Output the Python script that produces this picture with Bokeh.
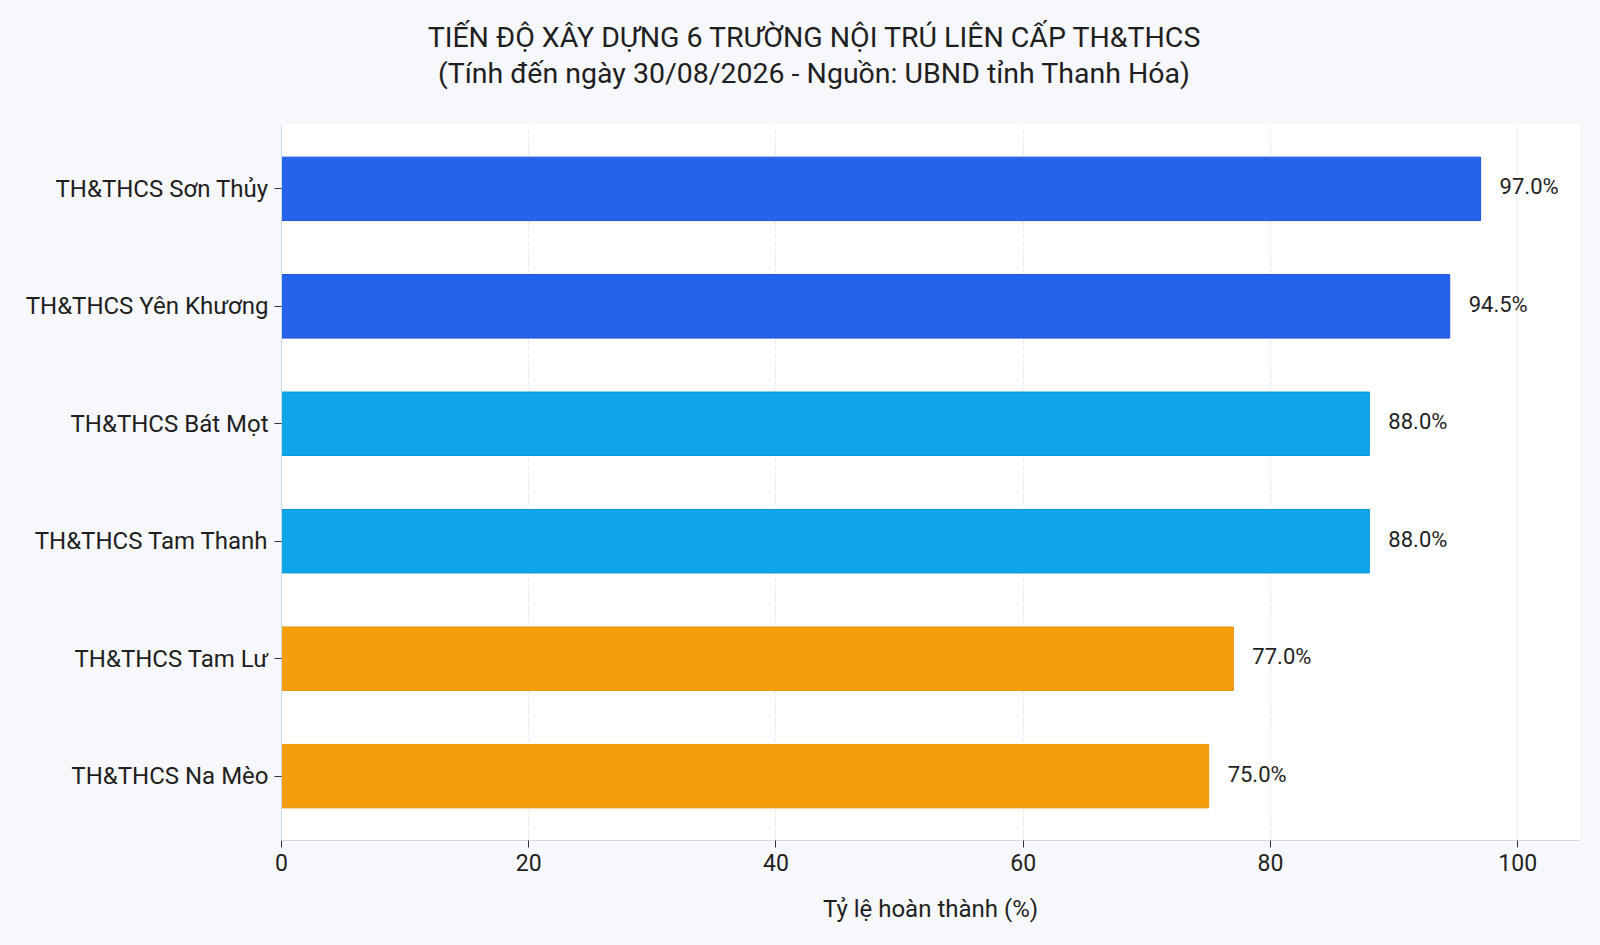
from bokeh.plotting import figure
from bokeh.layouts import column
from bokeh.models import ColumnDataSource, Div, FactorRange, Range1d, FixedTicker
from bokeh.embed import file_html
from bokeh.resources import INLINE

schools = ["TH&THCS Sơn Thủy", "TH&THCS Yên Khương", "TH&THCS Bát Mọt",
           "TH&THCS Tam Thanh", "TH&THCS Tam Lư", "TH&THCS Na Mèo"]
completion = [97.0, 94.5, 88.0, 88.0, 77.0, 75.0]
bar_colors = ["#2563eb", "#2563eb", "#0ea5e9", "#0ea5e9", "#f59e0b", "#f59e0b"]
edge_colors = ["#1d4ed8", "#1d4ed8", "#0b96d6", "#0b96d6", "#e8940a", "#e8940a"]
x_ticks = [0, 20, 40, 60, 80, 100]
labels = [f"{v:.1f}%" for v in completion]

title_line1 = "TIẾN ĐỘ XÂY DỰNG 6 TRƯỜNG NỘI TRÚ LIÊN CẤP TH&THCS"
title_line2 = "(Tính đến ngày 30/08/2026 - Nguồn: UBND tỉnh Thanh Hóa)"
x_label = "Tỷ lệ hoàn thành (%)"

FONT = "Roboto"
TXT = "#1f1f1f"
BG = "#f7f8fb"

W, H = 1600, 945
HEAD = 124
FRAME_L, FRAME_R, FRAME_B = 281, 1579, 840
X_MAX = 105

src = ColumnDataSource(dict(school=schools, val=completion, color=bar_colors,
                            edge=edge_colors, label=labels))

y_range = FactorRange(factors=list(reversed(schools)), range_padding=0.048,
                      range_padding_units="absolute")

title_div = Div(
    text=(f'<div style="font-family:{FONT};font-size:28.5px;line-height:35.5px;'
          f'color:{TXT};text-align:center;padding-top:20px;padding-left:28px;'
          f'box-sizing:border-box;width:{W}px;">'
          f'{title_line1}<br>{title_line2}</div>'),
    width=W, height=HEAD, margin=(0, 0, 0, 0))

p = figure(width=W, height=H - HEAD, y_range=y_range, x_range=Range1d(0, X_MAX),
           output_backend="svg", toolbar_location=None, margin=(0, 0, 0, 0),
           min_border_left=FRAME_L, min_border_right=W - FRAME_R,
           min_border_top=0, min_border_bottom=H - FRAME_B)

p.hbar(y="school", right="val", left=0, height=0.54, source=src,
       fill_color="color", line_color="edge", line_width=1)

p.text(x="val", y="school", text="label", source=src, x_offset=19, y_offset=-2,
       text_align="left", text_baseline="middle", text_font_size="22px",
       text_color=TXT, text_font={"value": FONT})

p.background_fill_color = "#ffffff"
p.border_fill_color = BG
p.outline_line_color = None

p.xgrid.grid_line_color = "#e6e8ec"
p.xgrid.grid_line_dash = "4 3"
p.xgrid.ticker = FixedTicker(ticks=x_ticks)
p.ygrid.grid_line_color = None

p.xaxis.ticker = FixedTicker(ticks=x_ticks)
p.xaxis.axis_label = x_label
p.xaxis.axis_label_text_font = FONT
p.xaxis.axis_label_text_font_size = "24px"
p.xaxis.axis_label_text_font_style = "normal"
p.xaxis.axis_label_text_color = TXT
p.xaxis.axis_label_standoff = 21
p.xaxis.major_label_text_font = FONT
p.xaxis.major_label_text_font_size = "23px"
p.xaxis.major_label_text_color = TXT
p.xaxis.major_label_standoff = 6
p.xaxis.axis_line_color = "#cfd8e3"
p.xaxis.major_tick_line_color = "#333333"
p.xaxis.major_tick_out = 7
p.xaxis.major_tick_in = 0
p.xaxis.minor_tick_line_color = None

p.yaxis.major_label_text_font = FONT
p.yaxis.major_label_text_font_size = "24px"
p.yaxis.major_label_text_color = TXT
p.yaxis.major_label_standoff = 6
p.yaxis.axis_line_color = "#c6dbea"
p.yaxis.major_tick_line_color = "#333333"
p.yaxis.major_tick_out = 7
p.yaxis.major_tick_in = 0

layout = column(title_div, p, spacing=0, margin=(0, 0, 0, 0),
                styles={"background-color": BG})

html = file_html(layout, INLINE)
html = html.replace("<head>", "<head><style>body{background:%s;margin:0;}</style>" % BG, 1)
open("out.html", "w").write(html)
